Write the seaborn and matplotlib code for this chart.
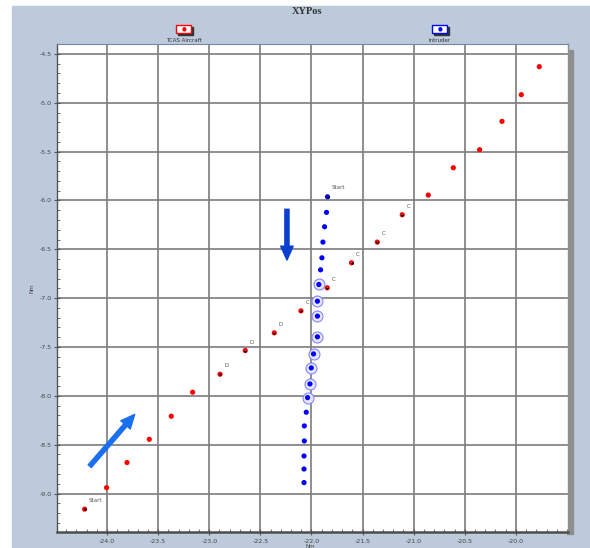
import pandas as pd
import numpy as np
import matplotlib
matplotlib.use('Agg')
import matplotlib.pyplot as plt
from matplotlib.patches import Rectangle
from matplotlib.ticker import MultipleLocator, FormatStrFormatter
import seaborn as sns

# TCAS aircraft track (Nm)
tcas_x = [-24.22, -24.005, -23.805, -23.587, -23.372, -23.163, -22.895, -22.648, -22.364, -22.103,
          -21.846, -21.608, -21.356, -21.112, -20.857, -20.612, -20.355, -20.136, -19.947, -19.771]
tcas_y = [-9.16, -8.94, -8.683, -8.445, -8.209, -7.963, -7.779, -7.536, -7.355, -7.13,
          -6.894, -6.638, -6.426, -6.146, -5.945, -5.665, -5.48, -5.19, -4.917, -4.63]
tcas_labels = ['Start', '', '', '', '', '', 'D', 'D', 'D', 'C',
               'C', 'C', 'C', 'C', '', '', '', '', '', '']

# intruder track (Nm)
intruder_x = [-21.843, -21.853, -21.872, -21.888, -21.898, -21.911, -21.928, -21.942, -21.942, -21.942,
              -21.98, -22.002, -22.015, -22.038, -22.051, -22.07, -22.07, -22.073, -22.073, -22.073]
intruder_y = [-5.962, -6.122, -6.269, -6.426, -6.587, -6.71, -6.86, -7.031, -7.184, -7.396,
              -7.571, -7.714, -7.878, -8.018, -8.168, -8.308, -8.462, -8.616, -8.749, -8.888]
intruder_labels = ['Start'] + [''] * 19
intruder_alert = [False] * 6 + [True] * 8 + [False] * 6

series_names = ['TCAS Aircraft', 'Intruder']
series_colors = ['#ff0000', '#0000ff']

x_ticks = [-24.0, -23.5, -23.0, -22.5, -22.0, -21.5, -21.0, -20.5, -20.0]
y_ticks = [-4.5, -5.0, -5.5, -6.0, -6.5, -7.0, -7.5, -8.0, -8.5, -9.0]

df = pd.concat([
    pd.DataFrame({'x': tcas_x, 'y': tcas_y, 'label': tcas_labels, 'alert': False, 'series': series_names[0]}),
    pd.DataFrame({'x': intruder_x, 'y': intruder_y, 'label': intruder_labels, 'alert': intruder_alert,
                  'series': series_names[1]}),
], ignore_index=True)

W, H = 590, 548
fig = plt.figure(figsize=(W / 100, H / 100), dpi=100)
fig.patch.set_facecolor('white')

def px(x0, y0, w, h):
    # pixel box (from top-left) -> figure fraction
    return (x0 / W, 1 - (y0 + h) / H, w / W, h / H)

# blue-grey panel
b = px(12, 6, 578, 542)
fig.add_artist(Rectangle(b[:2], b[2], b[3], transform=fig.transFigure, color='#bccadb', zorder=0))
# shadow right of plot
b = px(567, 50, 6, 484)
fig.add_artist(Rectangle(b[:2], b[2], b[3], transform=fig.transFigure, color='#8e8e8e', zorder=1))

ax = fig.add_axes(px(57, 44, 511, 488))
ax.set_facecolor('white')
ax.set_zorder(2)

# alert halos on intruder
alert = df[df['alert']]
sns.scatterplot(data=alert, x='x', y='y', s=62, color='#e6e6ff', edgecolor='#8585ff', linewidth=0.8,
                legend=False, ax=ax, zorder=3)
sns.scatterplot(data=df, x='x', y='y', hue='series', palette=dict(zip(series_names, series_colors)),
                s=14, linewidth=0, legend=False, ax=ax, zorder=4)
labeled = df[df['label'] != '']
sns.scatterplot(data=labeled, x='x', y='y', s=3, color='black', linewidth=0, legend=False, ax=ax, zorder=5)

for _, r in labeled.iterrows():
    off = (8, 6.5) if r['label'] == 'Start' else (4.5, 6)
    ax.annotate(r['label'], (r['x'], r['y']), xytext=off, textcoords='offset points',
                fontsize=4, color='#555555', ha='center', va='center', zorder=6,
                arrowprops=dict(arrowstyle='-', color='#9a9a9a', lw=0.6, shrinkA=2.5, shrinkB=1.5))

# direction arrows
ax.annotate('', xy=(-22.24, -6.61), xytext=(-22.24, -6.09),
            arrowprops=dict(arrowstyle='simple,head_width=0.9,head_length=1.0,tail_width=0.3',
                            color='#0b3fd0', mutation_scale=10, shrinkA=0, shrinkB=0), zorder=6)
ax.annotate('', xy=(-23.73, -8.19), xytext=(-24.17, -8.72),
            arrowprops=dict(arrowstyle='simple,head_width=0.9,head_length=1.0,tail_width=0.3',
                            color='#1a6ff0', mutation_scale=10, shrinkA=0, shrinkB=0), zorder=6)

ax.set_xlim(-24.49, -19.49)
ax.set_ylim(-9.394, -4.398)
ax.set_xticks(x_ticks)
ax.set_yticks(y_ticks)
ax.xaxis.set_minor_locator(MultipleLocator(0.1))
ax.yaxis.set_minor_locator(MultipleLocator(0.1))
ax.xaxis.set_major_formatter(FormatStrFormatter('%.1f'))
ax.yaxis.set_major_formatter(FormatStrFormatter('%.1f'))
ax.tick_params(which='major', direction='inout', length=4, width=0.8, color='#555555',
               labelsize=4.5, labelcolor='#444444', pad=1.5)
ax.tick_params(which='minor', direction='in', length=2.5, width=0.6, color='#555555')
ax.tick_params(axis='x', which='major', pad=3)
ax.grid(True, which='major', color='#7c7c7c', lw=1.2)
ax.set_axisbelow(True)

for side, c, w in [('left', '#555555', 1.0), ('bottom', '#4d4d4d', 1.8), ('top', '#7485a8', 0.8),
                   ('right', '#8e8e8e', 1.0)]:
    ax.spines[side].set_color(c)
    ax.spines[side].set_linewidth(w)

ax.set_xlabel('Nm', fontsize=4, color='#444444')
ax.set_ylabel('Nm', fontsize=4, color='#444444')
ax.xaxis.set_label_coords(0.495, -0.024)
ax.yaxis.set_label_coords(-0.045, 0.5)

# title
fig.text(307 / W, 1 - 12 / H, 'XYPos', ha='center', va='center', fontsize=7.5,
         family='Liberation Serif', weight='bold', color='#333333')

# legend icons with text below
for name, color, cx in zip(series_names, series_colors, [184, 440]):
    b = px(cx - 6, 27, 15, 8)
    fig.add_artist(Rectangle(b[:2], b[2], b[3], transform=fig.transFigure, color='#333333', zorder=3))
    b = px(cx - 8, 25, 15, 8)
    fig.add_artist(Rectangle(b[:2], b[2], b[3], transform=fig.transFigure, facecolor='white',
                             edgecolor=color, lw=1.0, zorder=4))
    fig.text(cx / W, 1 - 29 / H, '\u25cf', color=color, fontsize=4, ha='center', va='center', zorder=5)
    fig.text(cx / W, 1 - 40 / H, name, ha='center', va='center', fontsize=4, color='#333333')

fig.savefig('out.png', dpi=100)
